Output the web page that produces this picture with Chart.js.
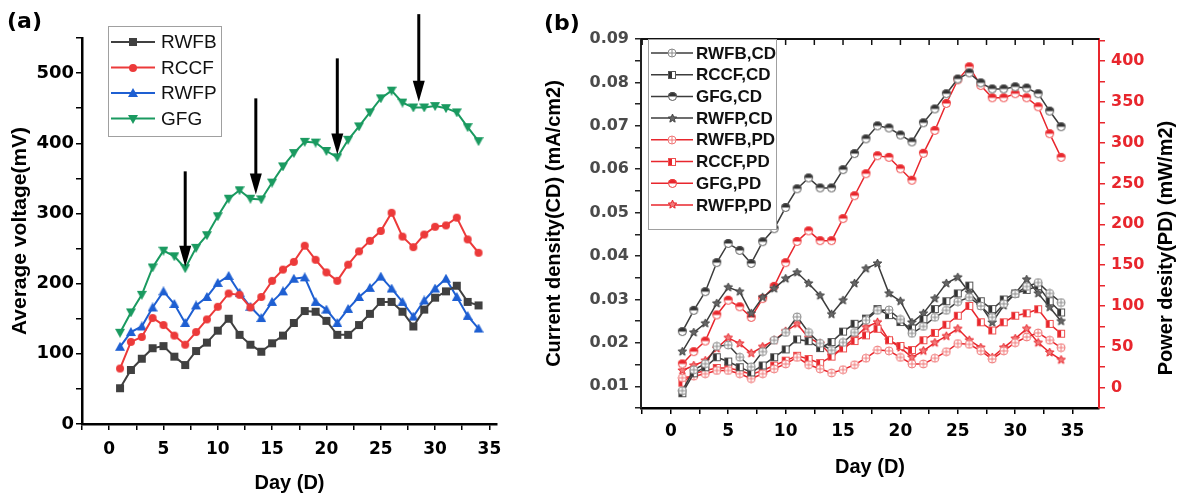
<!DOCTYPE html>
<html>
<head>
<meta charset="utf-8">
<script src="https://cdn.jsdelivr.net/npm/chart.js@4.4.1/dist/chart.umd.min.js"></script>
<style>
  body { margin: 0; background: #fff; width: 1177px; height: 496px; overflow: hidden; position: relative; }
  .panel { position: absolute; top: 0; height: 496px; }
  #wa { left: 0; width: 540px; }
  #wb { left: 540px; width: 637px; }
  .tag { position: absolute; z-index: 2; font: bold 22px "DejaVu Sans", sans-serif; color: #000; }
</style>
</head>
<body>
<div class="tag" style="left:7px;top:8px">(a)</div>
<div class="tag" style="left:544px;top:10px">(b)</div>
<div class="panel" id="wa"><canvas id="ca"></canvas></div>
<div class="panel" id="wb"><canvas id="cb"></canvas></div>
<script>
// ---- data ----
const days = [1, 2, 3, 4, 5, 6, 7, 8, 9, 10, 11, 12, 13, 14, 15, 16, 17, 18, 19, 20,
  21, 22, 23, 24, 25, 26, 27, 28, 29, 30, 31, 32, 33, 34];

// (a) average voltage, mV
const rwfbV = [51, 77, 93, 108, 111, 96, 84, 104, 116, 133, 150, 127, 113, 103, 115, 126, 144, 161, 160, 147,
  127, 127, 141, 157, 174, 174, 160, 139, 163, 180, 189, 197, 174, 169];
const rccfV = [79, 117, 124, 151, 141, 126, 113, 131, 149, 167, 186, 184, 166, 181, 204, 220, 231, 254, 234, 216,
  204, 227, 246, 261, 275, 301, 267, 252, 270, 281, 283, 294, 263, 244];
const rwfpV = [110, 131, 139, 166, 189, 171, 144, 169, 181, 201, 211, 187, 167, 151, 174, 189, 207, 209, 174, 163,
  144, 164, 181, 194, 210, 193, 174, 153, 176, 193, 207, 181, 154, 136];
const gfgV = [130, 159, 184, 223, 247, 239, 222, 251, 269, 296, 321, 333, 321, 320, 344, 367, 386, 402, 401, 389,
  380, 405, 424, 444, 464, 475, 458, 451, 451, 453, 450, 444, 423, 403];

// arrows in (a): day, tail value, tip value (mV)
const arrowDay = [7, 13.5, 21, 28.5];
const arrowFrom = [360, 464, 521, 584];
const arrowTo = [224, 327, 384, 459];

// (b) current density, mA/cm2
const cdRwfb = [0.0090, 0.0138, 0.0152, 0.0192, 0.0195, 0.0167, 0.0145, 0.0180, 0.0206, 0.0224, 0.0260, 0.0224,
  0.0199, 0.0183, 0.0201, 0.0224, 0.0252, 0.0275, 0.0276, 0.0254, 0.0222, 0.0238, 0.0259, 0.0275, 0.0295,
  0.0305, 0.0285, 0.0259, 0.0290, 0.0313, 0.0330, 0.0339, 0.0314, 0.0293];
const cdRccf = [0.0084, 0.0130, 0.0144, 0.0167, 0.0157, 0.0144, 0.0132, 0.0148, 0.0167, 0.0185, 0.0208, 0.0204,
  0.0188, 0.0202, 0.0226, 0.0244, 0.0256, 0.0278, 0.0264, 0.0248, 0.0233, 0.0255, 0.0278, 0.0296, 0.0314,
  0.0332, 0.0296, 0.0278, 0.0300, 0.0314, 0.0322, 0.0331, 0.0296, 0.0270];
const cdGfg = [0.0226, 0.0275, 0.0318, 0.0385, 0.0429, 0.0413, 0.0383, 0.0433, 0.0463, 0.0512, 0.0555, 0.0580,
  0.0557, 0.0557, 0.0599, 0.0636, 0.0670, 0.0700, 0.0695, 0.0679, 0.0663, 0.0707, 0.0739, 0.0774, 0.0808,
  0.0822, 0.0799, 0.0785, 0.0785, 0.0790, 0.0787, 0.0774, 0.0734, 0.0698];
const cdRwfp = [0.0180, 0.0224, 0.0245, 0.0291, 0.0328, 0.0318, 0.0268, 0.0305, 0.0325, 0.0348, 0.0362, 0.0337,
  0.0309, 0.0266, 0.0298, 0.0337, 0.0371, 0.0383, 0.0314, 0.0296, 0.0247, 0.0268, 0.0302, 0.0337, 0.0351,
  0.0316, 0.0286, 0.0247, 0.0286, 0.0314, 0.0346, 0.0314, 0.0282, 0.0250];

// (b) power density, mW/m2
const pdRwfb = [12, 14, 17, 21, 21, 17, 11, 17, 23, 29, 37, 28, 23, 18, 22, 28, 36, 46, 45, 37,
  29, 29, 36, 44, 54, 53, 45, 35, 45, 55, 62, 67, 58, 49];
const pdRccf = [6, 17, 21, 24, 24, 21, 16, 21, 27, 33, 39, 35, 30, 38, 48, 57, 64, 72, 58, 51,
  46, 58, 67, 77, 88, 100, 80, 70, 80, 88, 91, 96, 78, 66];
const pdGfg = [29, 44, 57, 89, 107, 99, 86, 109, 124, 153, 179, 192, 180, 180, 207, 235, 262, 284, 282, 268,
  254, 287, 315, 348, 377, 393, 370, 355, 355, 360, 355, 344, 311, 282];
const pdRwfp = [21, 27, 33, 48, 61, 54, 42, 50, 58, 69, 78, 61, 54, 39, 49, 61, 74, 80, 58, 49,
  37, 45, 55, 63, 72, 58, 49, 37, 49, 60, 72, 55, 43, 34];

// ---- markers ----
function marker(kind, color, size, edge) {
  const c = document.createElement('canvas');
  c.width = size; c.height = size;
  const g = c.getContext('2d');
  const m = size / 2, r = size / 2 - 1;
  g.fillStyle = color;
  g.strokeStyle = edge || color;
  g.lineWidth = 1;
  if (kind === 'square') {
    g.fillRect(1, 1, size - 2, size - 2);
  } else if (kind === 'dot') {
    g.beginPath(); g.arc(m, m, r, 0, Math.PI * 2); g.fill();
  } else if (kind === 'up') {
    g.beginPath(); g.moveTo(m, 0); g.lineTo(size, size - 1); g.lineTo(0, size - 1); g.closePath(); g.fill();
  } else if (kind === 'down') {
    g.beginPath(); g.moveTo(0, 1); g.lineTo(size, 1); g.lineTo(m, size); g.closePath(); g.fill();
  } else if (kind === 'ring') {
    g.fillStyle = '#fff';
    g.beginPath(); g.arc(m, m, r, 0, Math.PI * 2); g.fill(); g.stroke();
    g.beginPath(); g.moveTo(m - r, m); g.lineTo(m + r, m); g.moveTo(m, m - r); g.lineTo(m, m + r); g.stroke();
  } else if (kind === 'halfSq') {
    g.fillStyle = '#fff'; g.fillRect(1, 1, size - 2, size - 2);
    g.fillStyle = color; g.fillRect(1, 1, m - 1, size - 2);
    g.strokeRect(1.5, 1.5, size - 3, size - 3);
  } else if (kind === 'halfDot') {
    g.fillStyle = '#fff';
    g.beginPath(); g.arc(m, m, r, 0, Math.PI * 2); g.fill();
    g.fillStyle = color;
    g.beginPath(); g.arc(m, m, r, Math.PI, Math.PI * 2); g.fill();
    g.beginPath(); g.arc(m, m, r - 0.5, 0, Math.PI * 2); g.stroke();
  } else if (kind === 'star') {
    g.beginPath();
    for (let i = 0; i < 10; i++) {
      const a = -Math.PI / 2 + i * Math.PI / 5, rr = i % 2 ? r * 0.45 : r;
      g.lineTo(m + rr * Math.cos(a), m + rr * Math.sin(a));
    }
    g.closePath(); g.fill(); g.stroke();
  }
  return c;
}

// ---- plugins ----
const boxLegend = {
  id: 'boxLegend',
  afterDraw(chart, args, o) {
    const ctx = chart.ctx;
    ctx.save();
    ctx.fillStyle = '#fff';
    ctx.strokeStyle = '#a0a0a0';
    ctx.lineWidth = 1;
    ctx.fillRect(o.x, o.y, o.w, o.h);
    ctx.strokeRect(o.x + 0.5, o.y + 0.5, o.w, o.h);
    ctx.font = o.font;
    ctx.textBaseline = 'middle';
    chart.data.datasets.forEach((ds, i) => {
      const cy = o.first + i * o.step;
      ctx.strokeStyle = ds.borderColor;
      ctx.lineWidth = ds.borderWidth;
      ctx.beginPath(); ctx.moveTo(o.x + 3, cy); ctx.lineTo(o.x + 3 + o.line, cy); ctx.stroke();
      const img = ds.pointStyle;
      ctx.drawImage(img, Math.round(o.x + 3 + o.line / 2 - img.width / 2), Math.round(cy - img.height / 2));
      ctx.fillStyle = '#111';
      ctx.fillText(ds.label, o.x + o.line + o.gap, cy + 1);
    });
    ctx.restore();
  }
};

const arrows = {
  id: 'arrows',
  afterDatasetsDraw(chart) {
    const { ctx, scales: { x, y } } = chart;
    ctx.save();
    ctx.fillStyle = '#000';
    ctx.strokeStyle = '#000';
    ctx.lineWidth = 3;
    arrowDay.forEach((d, i) => {
      const px = x.getPixelForValue(d);
      const y0 = y.getPixelForValue(arrowFrom[i]);
      const y1 = y.getPixelForValue(arrowTo[i]);
      ctx.beginPath(); ctx.moveTo(px, y0); ctx.lineTo(px, y1 - 14); ctx.stroke();
      ctx.beginPath(); ctx.moveTo(px - 6, y1 - 21); ctx.lineTo(px + 6, y1 - 21); ctx.lineTo(px, y1); ctx.closePath(); ctx.fill();
    });
    ctx.restore();
  }
};

const frameB = {
  id: 'frameB',
  afterDraw(chart) {
    const { ctx, chartArea: a, scales: { x } } = chart;
    ctx.save();
    ctx.strokeStyle = '#111';
    ctx.lineWidth = 2;
    ctx.beginPath(); ctx.moveTo(a.left, a.top); ctx.lineTo(a.right, a.top); ctx.stroke();
    ctx.lineWidth = 1.5;
    for (let v = -2.5; v <= 35; v += 2.5) {
      const px = x.getPixelForValue(v);
      ctx.beginPath(); ctx.moveTo(px, a.top); ctx.lineTo(px, a.top + 6); ctx.stroke();
    }
    // right axis title, reading bottom to top
    ctx.translate(626, 248);
    ctx.rotate(-Math.PI / 2);
    ctx.font = 'bold 20px "Liberation Sans", Arial, sans-serif';
    ctx.fillStyle = '#000';
    ctx.textAlign = 'center';
    ctx.textBaseline = 'middle';
    ctx.fillText('Power desity(PD) (mW/m2)', 0, 0);
    ctx.restore();
  }
};

const tickFont = (s) => ({ family: '"DejaVu Sans", sans-serif', weight: 'bold', size: s });
const titleFont = (s) => ({ family: '"Liberation Sans", Arial, sans-serif', weight: 'bold', size: s });
const pts = (vals) => days.map((d, i) => ({ x: d, y: vals[i] }));
const every = (step, fmt) => (v) => (Math.abs(v / step - Math.round(v / step)) < 1e-6 ? fmt(v) : '');

// ---- panel (a) ----
const cRwfb = '#404040', cRccf = '#ec3a3a', cRwfp = '#1e5fd2', cGfg = '#1a9a60';
const lineA = (label, vals, color, kind) => ({
  label, data: pts(vals), borderColor: color, backgroundColor: color, borderWidth: 2,
  pointStyle: marker(kind, color, 10), pointRadius: 5, tension: 0
});

new Chart(document.getElementById('ca'), {
  type: 'line',
  data: {
    datasets: [
      lineA('RWFB', rwfbV, cRwfb, 'square'),
      lineA('RCCF', rccfV, cRccf, 'dot'),
      lineA('RWFP', rwfpV, cRwfp, 'up'),
      lineA('GFG', gfgV, cGfg, 'down')
    ]
  },
  options: {
    animation: false,
    responsive: true,
    maintainAspectRatio: false,
    events: [],
    layout: { padding: { top: 38, right: 43, left: 0, bottom: 0 } },
    plugins: {
      legend: { display: false },
      tooltip: { enabled: false },
      boxLegend: { x: 108, y: 26, w: 113, h: 110, first: 42, step: 25.5, line: 44, gap: 9,
        font: '19px "Liberation Sans", Arial, sans-serif' }
    },
    scales: {
      x: {
        type: 'linear', min: -2.5, max: 35.7,
        afterFit(s) { s.height = 72; },
        ticks: { stepSize: 2.5, includeBounds: false, autoSkip: false, maxRotation: 0,
          callback: every(5, (v) => String(v)), font: tickFont(17), color: '#000', padding: 9 },
        grid: { drawOnChartArea: false, color: '#000', tickLength: 6, lineWidth: 1.5 },
        border: { color: '#000', width: 2.5 },
        title: { display: true, text: 'Day (D)', font: titleFont(20), color: '#000', padding: { bottom: 1 } }
      },
      y: {
        min: 0, max: 550,
        afterFit(s) { s.width = 82; },
        ticks: { stepSize: 50, includeBounds: false, autoSkip: false, callback: every(100, (v) => String(v)),
          font: tickFont(18), color: '#000', padding: 2 },
        grid: { drawOnChartArea: false, color: '#000', tickLength: 6, lineWidth: 1.5 },
        border: { color: '#000', width: 2.5 },
        title: { display: true, text: 'Average voltage(mV)', font: titleFont(21), color: '#000', padding: { top: 8 } }
      }
    }
  },
  plugins: [arrows, boxLegend]
});

// ---- panel (b) ----
const gLine = '#3c3c3c', rLine = '#e8262d';
const lineB = (label, vals, color, pt, axis) => ({
  label, data: pts(vals), borderColor: color, backgroundColor: color, borderWidth: 1.5,
  pointStyle: pt, pointRadius: 5, yAxisID: axis, tension: 0
});

new Chart(document.getElementById('cb'), {
  type: 'line',
  data: {
    datasets: [
      lineB('RWFB,CD', cdRwfb, gLine, marker('ring', '#fff', 10, '#8a8a8a'), 'y'),
      lineB('RCCF,CD', cdRccf, gLine, marker('halfSq', '#333', 10, '#555'), 'y'),
      lineB('GFG,CD', cdGfg, gLine, marker('halfDot', '#333', 11, '#555'), 'y'),
      lineB('RWFP,CD', cdRwfp, gLine, marker('star', '#666', 11, '#444'), 'y'),
      lineB('RWFB,PD', pdRwfb, rLine, marker('ring', '#fff', 10, '#f07878'), 'y1'),
      lineB('RCCF,PD', pdRccf, rLine, marker('halfSq', '#e8262d', 10, '#ee5050'), 'y1'),
      lineB('GFG,PD', pdGfg, rLine, marker('halfDot', '#e8262d', 11, '#ee4040'), 'y1'),
      lineB('RWFP,PD', pdRwfp, rLine, marker('star', '#f27a7a', 11, '#e8262d'), 'y1')
    ]
  },
  options: {
    animation: false,
    responsive: true,
    maintainAspectRatio: false,
    events: [],
    layout: { padding: { top: 39, right: 0, left: 0, bottom: 0 } },
    plugins: {
      legend: { display: false },
      tooltip: { enabled: false },
      boxLegend: { x: 108, y: 39, w: 128, h: 190, first: 53, step: 21.7, line: 42, gap: 6,
        font: 'bold 17px "Liberation Sans", Arial, sans-serif' }
    },
    scales: {
      x: {
        type: 'linear', min: -2.6, max: 37.3,
        afterFit(s) { s.height = 88; },
        ticks: { stepSize: 2.5, includeBounds: false, autoSkip: false, maxRotation: 0,
          callback: every(5, (v) => String(v)), font: tickFont(17), color: '#000', padding: 7 },
        grid: { drawOnChartArea: false, color: '#000', tickLength: 6, lineWidth: 1.5 },
        border: { color: '#000', width: 2.5 },
        title: { display: true, text: 'Day (D)', font: titleFont(20), color: '#000', padding: { bottom: 17 } }
      },
      y: {
        position: 'left', min: 0.005, max: 0.09,
        afterFit(s) { s.width = 101; },
        ticks: { stepSize: 0.005, includeBounds: false, autoSkip: false, callback: every(0.01, (v) => v.toFixed(2)),
          font: tickFont(16), color: '#4a4a4a', padding: 6 },
        grid: { drawOnChartArea: false, color: '#222', tickLength: 6, lineWidth: 1.5 },
        border: { color: '#222', width: 2 },
        title: { display: true, text: 'Current density(CD) (mA/cm2)', font: titleFont(20), color: '#000', padding: { top: 2 } }
      },
      y1: {
        position: 'right', min: -25, max: 427,
        afterFit(s) { s.width = 78; },
        ticks: { stepSize: 25, includeBounds: false, autoSkip: false, callback: every(50, (v) => String(v)),
          font: tickFont(16), color: '#e8262d', padding: 6 },
        grid: { drawOnChartArea: false, color: '#e8262d', tickLength: 6, lineWidth: 1.5 },
        border: { color: '#e8262d', width: 2 }
      }
    }
  },
  plugins: [frameB, boxLegend]
});
</script>
</body>
</html>
